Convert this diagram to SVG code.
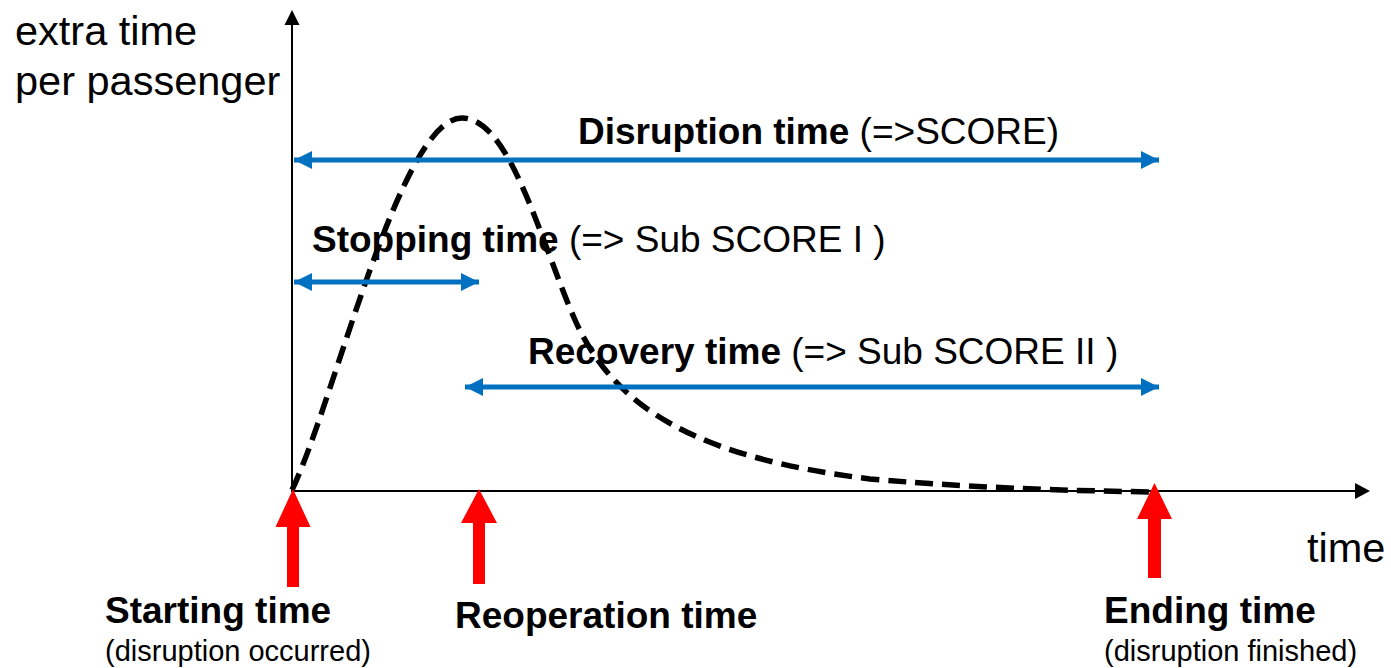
<svg xmlns="http://www.w3.org/2000/svg" width="1391" height="668" viewBox="0 0 1391 668">
<style>
text{font-family:"Liberation Sans",Arial,sans-serif;fill:#000}
.ax{font-size:41.5px}
.lb{font-size:37px}
.b{font-weight:bold}
.sm{font-size:29px}
.axis{stroke:#000;stroke-width:2;fill:none}
.blue{stroke:#0070C0;stroke-width:5;fill:none}
.red{fill:#FF0000}
.curve{stroke:#000;stroke-width:5.5;fill:none;stroke-dasharray:18 9}
</style>
<defs>
<marker id="bh" markerUnits="userSpaceOnUse" markerWidth="20" markerHeight="18" refX="18" refY="9" orient="auto-start-reverse"><path d="M0,0 L18,9 L0,18 Z" fill="#0070C0"/></marker>
</defs>
<rect width="1391" height="668" fill="#fff"/>
<g id="axes">
<line class="axis" x1="292" y1="492" x2="292" y2="22"/>
<path d="M292,10 L299.5,25 L284.5,25 Z" fill="#000"/>
<line class="axis" x1="292" y1="491" x2="1358" y2="491"/>
<path d="M1370,491 L1355,483 L1355,499 Z" fill="#000"/>
<text class="ax" x="15" y="45">extra time</text>
<text class="ax" x="15" y="95">per passenger</text>
<text class="ax" x="1307" y="562">time</text>
</g>
<g id="curve">
<path class="curve" d="M292,490 C335,400 400,118 462,118 C510,118 540,240 575,320 C615,410 700,458 870,479 C1000,490 1100,491 1155,492"/>
</g>
<g id="connectors">
<line class="blue" x1="294" y1="160" x2="1159" y2="160" marker-start="url(#bh)" marker-end="url(#bh)"/>
<line class="blue" x1="294" y1="282" x2="479" y2="282" marker-start="url(#bh)" marker-end="url(#bh)"/>
<line class="blue" x1="465" y1="387" x2="1159" y2="387" marker-start="url(#bh)" marker-end="url(#bh)"/>
</g>
<g id="label-disruption">
<text class="lb" x="578" y="144"><tspan class="b">Disruption time</tspan> (=&gt;SCORE)</text>
</g>
<g id="label-stopping">
<text class="lb" x="312" y="252"><tspan class="b">Stopping time</tspan> (=&gt; Sub SCORE I )</text>
</g>
<g id="label-recovery">
<text class="lb" x="528" y="364"><tspan class="b">Recovery time</tspan> (=&gt; Sub SCORE II )</text>
</g>
<g id="start">
<polygon class="red" points="293,489 310.5,527 299,527 299,587 287,587 287,527 275.5,527"/>
<text class="lb b" x="105" y="623">Starting time</text>
<text class="sm" x="105" y="661">(disruption occurred)</text>
</g>
<g id="reoperation">
<polygon class="red" points="479,489 497,523 485,523 485,584 473,584 473,523 461,523"/>
<text class="lb b" x="455" y="628">Reoperation time</text>
</g>
<g id="ending">
<polygon class="red" points="1154.5,483 1172,519 1161,519 1161,578 1148,578 1148,519 1137,519"/>
<text class="lb b" x="1104" y="623">Ending time</text>
<text class="sm" x="1104" y="661">(disruption finished)</text>
</g>
</svg>
